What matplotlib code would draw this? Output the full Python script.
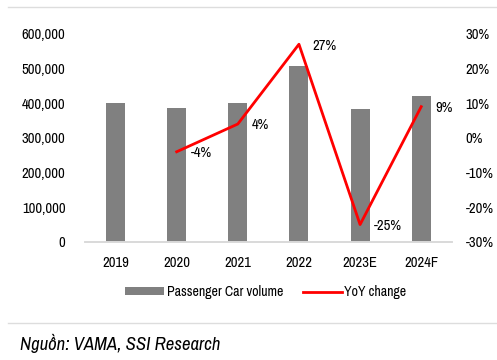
import matplotlib
matplotlib.use("Agg")
import matplotlib.pyplot as plt
from matplotlib.lines import Line2D
import numpy as np

plt.rcParams["font.family"] = ["Archivo Narrow", "Roboto Condensed", "DejaVu Sans"]

years = ["2019", "2020", "2021", "2022", "2023E", "2024F"]
volume = [401000, 386000, 400000, 508000, 384000, 420000]
yoy = [None, -4, 4, 27, -25, 9]
yoy_labels = ["", "-4%", "4%", "27%", "-25%", "9%"]

BAR_COLOR = "#808080"
LINE_COLOR = "#ff0000"

fig = plt.figure(figsize=(4.97, 3.60), dpi=100)
ax = fig.add_axes([0.171, 0.328, 0.738, 0.578])
ax2 = ax.twinx()

x = np.arange(len(years))
ax.bar(x, volume, width=0.31, color=BAR_COLOR, label="Passenger Car volume")
ax.set_xlim(-0.5, len(years) - 0.5)
ax.set_ylim(0, 600000)
ax.set_yticks(np.arange(0, 600001, 100000))
ax.set_yticklabels([f"{v:,}" for v in range(0, 600001, 100000)])
ax.set_xticks(x)
ax.set_xticklabels(years)

# YoY line (no value for 2019)
line_x = [i for i, v in enumerate(yoy) if v is not None]
line_y = [v for v in yoy if v is not None]
ax2.plot(line_x, line_y, color=LINE_COLOR, lw=2.0, label="YoY change")
ax2.set_ylim(-30, 30)
ax2.set_yticks(np.arange(-30, 31, 10))
ax2.set_yticklabels([f"{v}%" for v in range(-30, 31, 10)])
for i, v in enumerate(yoy):
    if v is None:
        continue
    ax2.annotate(yoy_labels[i], (i, v), xytext=(10, -1), textcoords="offset points",
                 ha="left", va="center", fontsize=10.5, color="#000000")

for a in (ax, ax2):
    for s in ("top", "left", "right"):
        a.spines[s].set_visible(False)
    a.spines["bottom"].set_color("#d9d9d9")
    a.spines["bottom"].set_linewidth(1.2)
    a.tick_params(length=0, labelsize=10.5)
ax.tick_params(axis="y", pad=14)
ax.tick_params(axis="x", pad=10)
ax2.tick_params(axis="y", pad=10)

h1, l1 = ax.get_legend_handles_labels()
h2, l2 = ax2.get_legend_handles_labels()
fig.legend(h1 + h2, l1 + l2, loc="center", bbox_to_anchor=(0.535, 0.188), ncol=2,
           frameon=False, fontsize=10, handlelength=2.8, handleheight=0.5,
           columnspacing=1.4, handletextpad=0.2)

# separator lines
fig.add_artist(Line2D([0.016, 1.0], [0.981, 0.981], color="#dddddd", lw=1))
fig.add_artist(Line2D([0.016, 1.0], [0.103, 0.103], color="#dddddd", lw=1))

fig.text(0.04, 0.047, "Nguồn: VAMA, SSI Research", fontsize=13.5, style="italic",
         ha="left", va="center", color="#000000")

fig.savefig("out.png", dpi=100)
